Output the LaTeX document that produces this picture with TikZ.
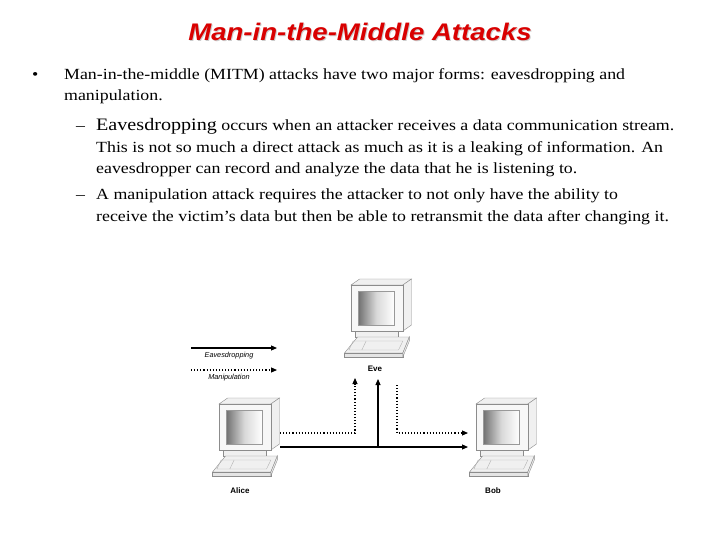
\documentclass[tikz,border=0pt]{standalone}
\usepackage{fontspec}
\setmainfont{Liberation Serif}[FakeStretch=1.15]
\newfontfamily\arial{Liberation Sans}
\newfontfamily\arialw{Liberation Sans}[FakeStretch=1.15]
\usetikzlibrary{arrows.meta}
\tikzset{
 txt/.style={anchor=base west,inner sep=0pt,font=\fontsize{15.5}{17}\selectfont},
 lbl/.style={font=\arial\fontsize{8}{9}\selectfont\bfseries,inner sep=0pt},
 leg/.style={font=\arial\fontsize{7.3}{8}\selectfont\itshape,inner sep=0pt},
 sol/.style={line width=1.1pt,-{Triangle[length=6pt,width=5pt]}},
 dot/.style={line width=1.1pt,dotted,-{Triangle[length=6pt,width=5pt]}},
 pcl/.style={draw=black!45,line width=0.4pt,fill=black!6}
}
\newcommand{\mypc}[2]{%
 \begin{scope}[shift={(#1,#2)},y=-1pt,x=1.08pt]
  \draw[pcl] (0,0) -- (8,-6) -- (56,-6) -- (48,0) -- cycle;
  \draw[pcl] (48,0) -- (56,-6) -- (56,40) -- (48,46) -- cycle;
  \draw[pcl,fill=black!3] (0,0) rectangle (48,46);
  \shade[left color=black!55,right color=white,middle color=black!15] (7,6) rectangle (40,40);
  \draw[black!40,line width=0.4pt] (7,6) rectangle (40,40);
  \draw[pcl] (4,46) -- (44,46) -- (44,52) -- (4,52) -- cycle;
  \draw[pcl] (6,52) -- (54,52) -- (48,68) -- (-6,68) -- cycle;
  \draw[pcl,fill=black!10] (-6,68) -- (48,68) -- (48,72) -- (-6,72) -- cycle;
  \draw[pcl] (48,68) -- (54,52) -- (54,56) -- (48,72) -- cycle;
  \draw[black!30] (2,56) -- (48,56) -- (44,65) -- (-2,65) -- cycle;
  \draw[black!30] (14,56) -- (10,65);
 \end{scope}}
\begin{document}
\begin{tikzpicture}[x=1pt,y=-1pt]
\useasboundingbox[fill=white] (0,0) rectangle (720,540);
\node[font=\arialw\fontsize{24}{26}\selectfont\bfseries\itshape,text=black!20] (shadow) at (361,33) {Man-in-the-Middle Attacks};
\node[font=\arialw\fontsize{24}{26}\selectfont\bfseries\itshape,text=red!85!black] (title) at (360,32) {Man-in-the-Middle Attacks};
\node[txt] (b1) at (32,80) {•};
\node[txt] (l1) at (64,80) {Man-in-the-middle (MITM) attacks have two major forms: eavesdropping and};
\node[txt] (l2) at (64,101) {manipulation.};
\node[txt] (d1) at (76,131) {–};
\node[txt] (l3) at (96,131) {{\fontsize{17.5}{19}\selectfont Eavesdropping} occurs when an attacker receives a data communication stream.};
\node[txt] (l4) at (96,153) {This is not so much a direct attack as much as it is a leaking of information. An};
\node[txt] (l5) at (96,174) {eavesdropper can record and analyze the data that he is listening to.};
\node[txt] (d2) at (76,200) {–};
\node[txt] (l6) at (96,200) {A manipulation attack requires the attacker to not only have the ability to};
\node[txt] (l7) at (96,222) {receive the victim's data but then be able to retransmit the data after changing it.};

\mypc{351}{285}
\mypc{219}{404}
\mypc{476}{404}
\node[lbl] (eve) at (375,369) {Eve};
\node[lbl] (alice) at (240,491) {Alice};
\node[lbl] (bob) at (493,491) {Bob};

\coordinate (e1) at (191,348); \coordinate (e2) at (277,348);
\coordinate (m1) at (191,370); \coordinate (m2) at (277,370);
\draw[sol] (e1) -- (e2);
\draw[dot] (m1) -- (m2);
\node[leg] (leglbl1) at (229,356) {Eavesdropping};
\node[leg] (leglbl2) at (229,378) {Manipulation};

\coordinate (as) at (280,447); \coordinate (bs) at (468,447);
\coordinate (j) at (378,447); \coordinate (es) at (378,379);
\draw[sol] (as) -- (bs);
\draw[sol] (j) -- (es);
\coordinate (ad) at (280,433); \coordinate (ac) at (355,433); \coordinate (ae) at (355,378);
\draw[dot] (ad) -- (ac) -- (ae);
\coordinate (bd0) at (397,385); \coordinate (bc) at (397,433); \coordinate (bd) at (468,433);
\draw[dot] (bd0) -- (bc) -- (bd);
\end{tikzpicture}
\end{document}
